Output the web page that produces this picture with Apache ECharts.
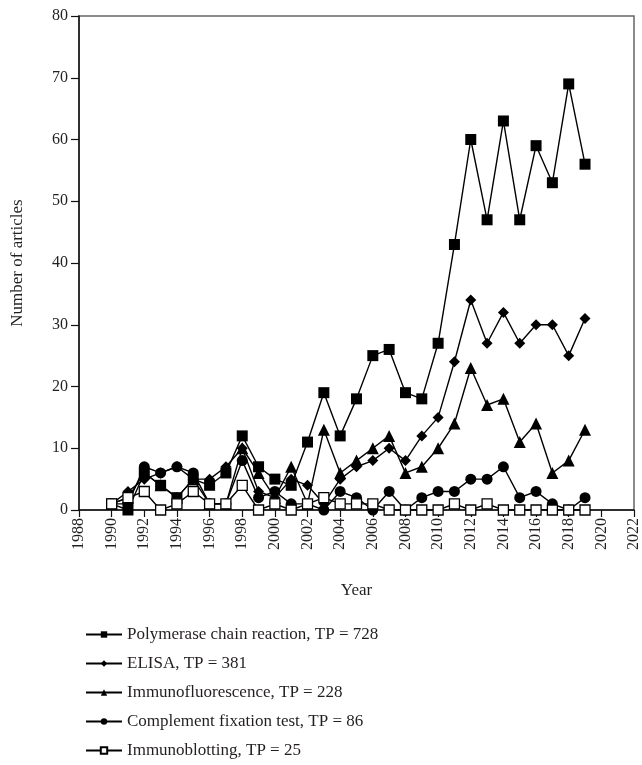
<!DOCTYPE html>
<html><head><meta charset="utf-8">
<script src="https://cdn.jsdelivr.net/npm/echarts@6/dist/echarts.min.js"></script>
<style>html,body{margin:0;padding:0;background:#fff}#c{width:642px;height:765px}</style>
</head><body><div id="c"></div>
<script>
const years = [1990,1991,1992,1993,1994,1995,1996,1997,1998,1999,2000,2001,2002,2003,2004,2005,2006,2007,2008,2009,2010,2011,2012,2013,2014,2015,2016,2017,2018,2019];
const pcr = [1,0,6,4,2,5,4,6,12,7,5,4,11,19,12,18,25,26,19,18,27,43,60,47,63,47,59,53,69,56];
const elisa = [1,3,5,6,7,5,5,7,10,3,2,5,4,1,5,7,8,10,8,12,15,24,34,27,32,27,30,30,25,31];
const ifl = [1,2,6,4,2,5,1,1,10,6,2,7,1,13,6,8,10,12,6,7,10,14,23,17,18,11,14,6,8,13];
const cft = [1,1,7,6,7,6,1,1,8,2,3,1,1,0,3,2,0,3,0,2,3,3,5,5,7,2,3,1,0,2];
const ib = [1,2,3,0,1,3,1,1,4,0,1,0,1,2,1,1,1,0,0,0,0,1,0,1,0,0,0,0,0,0];
const names = ['Polymerase chain reaction, TP = 728','ELISA, TP = 381','Immunofluorescence, TP = 228','Complement fixation test, TP = 86','Immunoblotting, TP = 25'];
const xTicks = {min:1988, max:2022, step:2};
const yTicks = {min:0, max:80, step:10};

const font = 'Liberation Serif';
const txt = '#231f20';
function mk(name, data, symbol, size, fill) {
  return {
    name, type:'line', data: years.map((y,i)=>[y,data[i]]),
    symbol, symbolSize: size, showSymbol:true,
    lineStyle:{color:'#000', width:1.4},
    itemStyle:{color: fill, borderColor:'#000', borderWidth: fill==='#fff'?1.3:0},
    emphasis:{disabled:true}, animation:false
  };
}
const chart = echarts.init(document.getElementById('c'), null, {renderer:'canvas'});
chart.setOption({
  animation:false,
  textStyle:{fontFamily:font},
  grid:{left:79, top:16, width:556, height:494, show:true, borderColor:'#666', borderWidth:1.5, containLabel:false},
  xAxis:{type:'value', min:xTicks.min, max:xTicks.max, interval:xTicks.step,
    name:'Year', nameLocation:'middle', nameGap:72,
    nameTextStyle:{fontFamily:font, fontSize:17, color:txt},
    axisLine:{lineStyle:{color:'#111', width:1.5}},
    axisTick:{inside:false, length:7, lineStyle:{color:'#111', width:1.2}},
    axisLabel:{rotate:90, fontFamily:font, fontSize:16, color:txt, margin:8, formatter:v=>String(v)},
    splitLine:{show:false}},
  yAxis:{type:'value', min:yTicks.min, max:yTicks.max, interval:yTicks.step,
    name:'Number of articles', nameLocation:'middle', nameGap:53,
    nameTextStyle:{fontFamily:font, fontSize:17, color:txt},
    axisLine:{show:true, lineStyle:{color:'#111', width:1.5}},
    axisTick:{show:true, inside:false, length:8, lineStyle:{color:'#111', width:1.2}},
    axisLabel:{fontFamily:font, fontSize:16, color:txt, margin:11},
    splitLine:{show:false}},
  legend:{orient:'vertical', left:80, top:621, itemWidth:36, itemHeight:8, itemGap:12,
    textStyle:{fontFamily:font, fontSize:17, color:txt}, data:names},
  series:[
    mk(names[0], pcr, 'rect', 11, '#000'),
    mk(names[1], elisa, 'diamond', 11, '#000'),
    mk(names[2], ifl, 'triangle', 12, '#000'),
    mk(names[3], cft, 'circle', 11, '#000'),
    mk(names[4], ib, 'rect', 10, '#fff')
  ]
});
</script></body></html>
